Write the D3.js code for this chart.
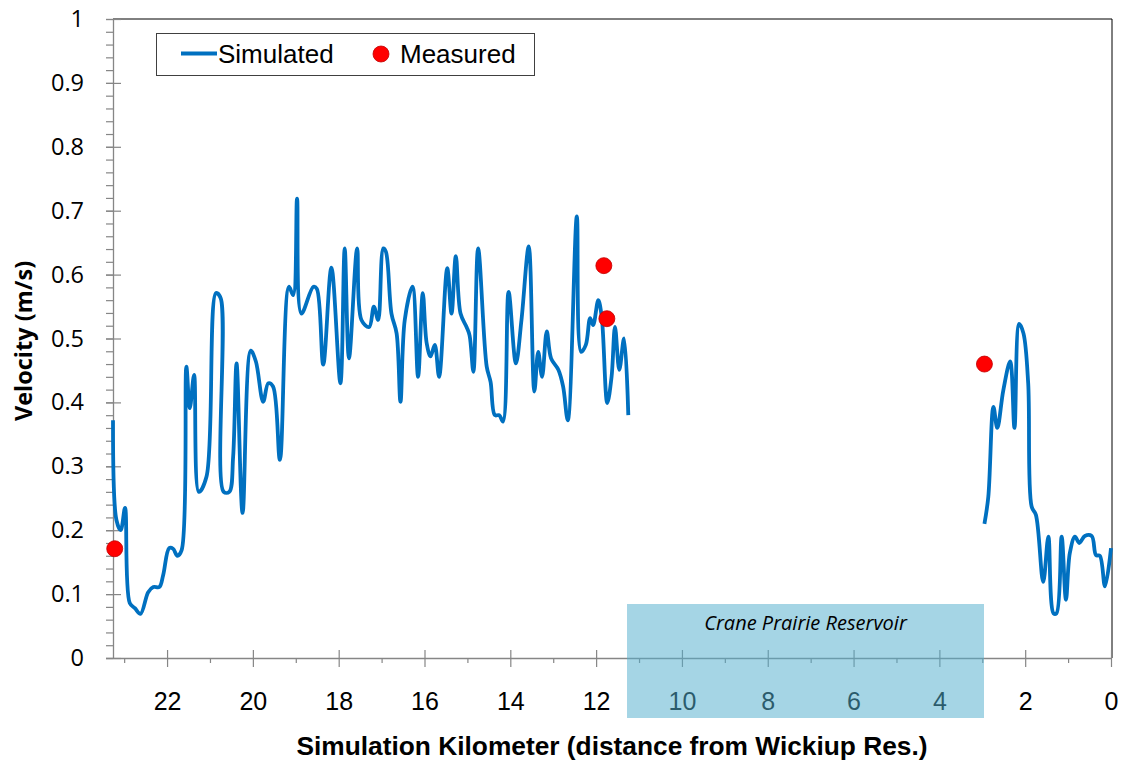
<!DOCTYPE html>
<html>
<head>
<meta charset="utf-8">
<script src="https://cdn.jsdelivr.net/npm/d3@7"></script>
<style>
  html, body { margin: 0; padding: 0; background: #fff; }
  svg { display: block; }
</style>
</head>
<body>
<svg id="chart" width="1124" height="763"></svg>
<script>
// Simulated velocity, reach above Crane Prairie Reservoir (km from Wickiup Res., m/s)
const upstreamKm = [23.26,23.18,23.08,22.98,22.87,22.75,22.62,22.44,22.32,22.18,22.09,21.95,21.86,21.76,21.66,21.55,21.47,21.37,21.26,21.08,20.86,20.75,20.68,20.55,20.46,20.38,20.24,20.05,19.93,19.76,19.64,19.53,19.37,19.16,19.06,18.97,18.87,18.59,18.51,18.36,18.17,17.96,17.86,17.76,17.57,17.47,17.29,17.18,17.08,16.96,16.90,16.77,16.65,16.56,16.46,16.28,16.15,16.04,15.95,15.86,15.76,15.66,15.47,15.37,15.27,15.16,15.02,14.95,14.86,14.75,14.55,14.46,14.36,14.26,14.17,14.04,13.87,13.74,13.57,13.44,13.35,13.26,13.15,13.05,12.88,12.77,12.66,12.45,12.35,12.24,12.14,12.07,11.95,11.87,11.74,11.64,11.56,11.46,11.35,11.25];
const upstreamVel = [0.372,0.216,0.200,0.235,0.086,0.078,0.069,0.103,0.111,0.111,0.130,0.172,0.171,0.160,0.169,0.456,0.391,0.443,0.260,0.284,0.571,0.563,0.260,0.260,0.315,0.461,0.227,0.481,0.464,0.401,0.430,0.425,0.310,0.581,0.568,0.719,0.539,0.581,0.578,0.459,0.611,0.430,0.641,0.469,0.641,0.529,0.518,0.550,0.529,0.641,0.636,0.539,0.508,0.401,0.529,0.581,0.440,0.571,0.493,0.472,0.490,0.440,0.610,0.539,0.629,0.539,0.518,0.505,0.448,0.641,0.456,0.432,0.380,0.380,0.370,0.573,0.461,0.529,0.644,0.417,0.479,0.440,0.511,0.469,0.451,0.425,0.372,0.691,0.479,0.490,0.532,0.521,0.560,0.534,0.399,0.440,0.518,0.451,0.500,0.380];

// Simulated velocity, reach below the reservoir
const downstreamKm = [2.95,2.86,2.74,2.65,2.51,2.35,2.25,2.14,2.04,1.93,1.85,1.75,1.58,1.46,1.34,1.27,1.15,1.05,0.96,0.84,0.74,0.61,0.45,0.35,0.26,0.14,0];
const downstreamVel = [0.210,0.252,0.393,0.360,0.419,0.464,0.360,0.523,0.508,0.430,0.237,0.224,0.119,0.190,0.070,0.070,0.190,0.091,0.164,0.190,0.180,0.191,0.191,0.161,0.160,0.112,0.172];

// Field measurements
const measuredKm = [23.22, 11.82, 11.75, 2.95];
const measuredVel = [0.171, 0.614, 0.531, 0.460];

// Axis ticks
const xMajorTicks = [22, 20, 18, 16, 14, 12, 10, 8, 6, 4, 2, 0];
const xMinorTicks = [23, 21, 19, 17, 15, 13, 11, 9, 7, 5, 3, 1];
const yMajorTicks = [0, 0.1, 0.2, 0.3, 0.4, 0.5, 0.6, 0.7, 0.8, 0.9, 1];
const yMinorStep = 0.02;
const xStartKm = 23.26;

// Reservoir reach and labels
const reservoirKm = [11.28, 2.96];
const reservoirName = "Crane Prairie Reservoir";
const seriesNames = ["Simulated", "Measured"];
const xTitle = "Simulation Kilometer (distance from Wickiup Res.)";
const yTitle = "Velocity (m/s)";

// ---- layout ----
const plot = { left: 113, right: 1111, top: 19, bottom: 658 };
const axisGray = "#868686";
const lineBlue = "#0070C0";

const svg = d3.select("#chart");

const x = d3.scaleLinear().domain([xStartKm, 0]).range([plot.left, plot.right]);
const y = d3.scaleLinear().domain([0, 1]).range([plot.bottom, plot.top]);

// plot frame (top and right edges)
svg.append("path")
  .attr("d", `M${plot.left},${plot.top}H${plot.right + 1}V${plot.bottom}`)
  .attr("fill", "none").attr("stroke", "#000").attr("stroke-width", 1);

// ---- y axis ----
const yMinorTicks = d3.range(0, 1 + 1e-9, yMinorStep).map(v => +v.toFixed(2));
const yAxisG = svg.append("g").attr("transform", `translate(${plot.left},0)`);
yAxisG.call(d3.axisLeft(y).tickValues(yMinorTicks).tickSize(7).tickSizeOuter(0).tickFormat(""));
yAxisG.select(".domain").attr("stroke", axisGray).attr("stroke-width", 1.3);
yAxisG.selectAll(".tick line").attr("stroke", axisGray).attr("stroke-width", 1.2);

const yMajorG = svg.append("g").attr("transform", `translate(${plot.left},0)`);
yMajorG.call(d3.axisLeft(y).tickValues(yMajorTicks).tickSize(0).tickPadding(29)
  .tickFormat(d => d3.format("~g")(d)));
yMajorG.select(".domain").remove();
yMajorG.selectAll(".tick").append("line")
  .attr("x1", -7).attr("x2", 8).attr("stroke", axisGray).attr("stroke-width", 1.2);
yMajorG.selectAll(".tick text")
  .attr("font-family", "'Open Sans', sans-serif").attr("font-size", 23.5).attr("fill", "#000");

// ---- x axis ----
const xAxisG = svg.append("g").attr("transform", `translate(0,${plot.bottom})`);
xAxisG.call(d3.axisBottom(x).tickValues(xMinorTicks).tickSize(5).tickSizeOuter(0).tickFormat(""));
xAxisG.select(".domain").attr("d", `M${plot.left - 7},0.5H${plot.right + 1}`)
  .attr("stroke", axisGray).attr("stroke-width", 1.3);
xAxisG.selectAll(".tick line").attr("stroke", axisGray).attr("stroke-width", 1.2);

const xMajorG = svg.append("g").attr("transform", `translate(0,${plot.bottom})`);
xMajorG.call(d3.axisBottom(x).tickValues(xMajorTicks).tickSize(0).tickPadding(34));
xMajorG.select(".domain").remove();
xMajorG.selectAll(".tick").append("line")
  .attr("y1", -8).attr("y2", 9).attr("stroke", axisGray).attr("stroke-width", 1.2);
xMajorG.selectAll(".tick text")
  .attr("font-family", "'Liberation Sans', Arial, sans-serif").attr("font-size", 25).attr("fill", "#000");

// ---- reservoir band (translucent, over the axis) ----
svg.append("rect")
  .attr("x", x(reservoirKm[0]))
  .attr("y", 604)
  .attr("width", x(reservoirKm[1]) - x(reservoirKm[0]))
  .attr("height", 114)
  .attr("fill", "rgb(83,174,205)")
  .attr("fill-opacity", 0.52);

svg.append("text")
  .attr("x", (x(reservoirKm[0]) + x(reservoirKm[1])) / 2)
  .attr("y", 630)
  .attr("text-anchor", "middle")
  .attr("font-family", "'Open Sans', sans-serif")
  .attr("font-style", "italic")
  .attr("font-size", 20)
  .attr("fill", "#000")
  .text(reservoirName);

// ---- axis titles ----
svg.append("text")
  .attr("x", (plot.left + plot.right) / 2)
  .attr("y", 755)
  .attr("text-anchor", "middle")
  .attr("font-family", "'Liberation Sans', Arial, sans-serif")
  .attr("font-weight", "bold")
  .attr("font-size", 26.3)
  .attr("fill", "#000")
  .text(xTitle);

svg.append("text")
  .attr("transform", "translate(32,341) rotate(-90)")
  .attr("text-anchor", "middle")
  .attr("font-family", "'Open Sans', sans-serif")
  .attr("font-weight", "bold")
  .attr("font-size", 23.5)
  .attr("fill", "#000")
  .text(yTitle);

// ---- simulated series ----
const line = d3.line()
  .x(d => x(d[0]))
  .y(d => y(d[1]))
  .curve(d3.curveCatmullRom.alpha(0.5));

const segments = [
  d3.zip(upstreamKm, upstreamVel),
  d3.zip(downstreamKm, downstreamVel)
];

svg.append("g").selectAll("path")
  .data(segments)
  .join("path")
  .attr("d", line)
  .attr("fill", "none")
  .attr("stroke", lineBlue)
  .attr("stroke-width", 3.8)
  .attr("stroke-linejoin", "round")
  .attr("stroke-linecap", "butt");

// ---- measured points ----
svg.append("g").selectAll("circle")
  .data(d3.zip(measuredKm, measuredVel))
  .join("circle")
  .attr("cx", d => x(d[0]))
  .attr("cy", d => y(d[1]))
  .attr("r", 8)
  .attr("fill", "#FF0000")
  .attr("stroke", "#C00000")
  .attr("stroke-width", 0.8);

// ---- legend ----
const legend = svg.append("g");
legend.append("rect")
  .attr("x", 156.5).attr("y", 33.5).attr("width", 378).attr("height", 42)
  .attr("fill", "#fff").attr("stroke", "#404040").attr("stroke-width", 1);
legend.append("line")
  .attr("x1", 181).attr("x2", 217).attr("y1", 53.5).attr("y2", 53.5)
  .attr("stroke", lineBlue).attr("stroke-width", 3.8);
legend.append("text")
  .attr("x", 218).attr("y", 63)
  .attr("font-family", "'Liberation Sans', Arial, sans-serif").attr("font-size", 26)
  .attr("fill", "#000").text(seriesNames[0]);
legend.append("circle")
  .attr("cx", 381).attr("cy", 54).attr("r", 8)
  .attr("fill", "#FF0000").attr("stroke", "#C00000").attr("stroke-width", 0.8);
legend.append("text")
  .attr("x", 400).attr("y", 63)
  .attr("font-family", "'Liberation Sans', Arial, sans-serif").attr("font-size", 26)
  .attr("fill", "#000").text(seriesNames[1]);
</script>
</body>
</html>
